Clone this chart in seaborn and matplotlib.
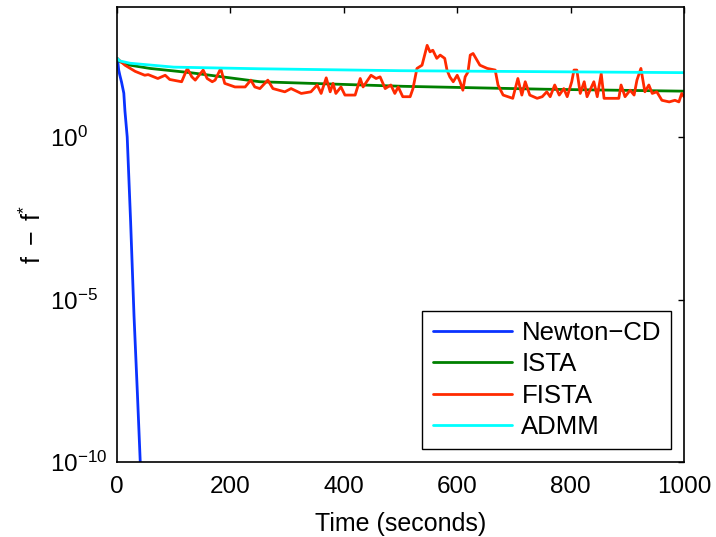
import numpy as np
import pandas as pd
import matplotlib
matplotlib.use("Agg")
import matplotlib.pyplot as plt
import seaborn as sns
from matplotlib.ticker import FixedLocator, NullLocator, FuncFormatter

# ---------------- data (log10 of f - f*) ----------------
newton_t = [0, 1.5, 3, 5, 8, 12, 14, 18, 24, 30, 36, 41, 46]
newton_log = [2.42, 2.30, 2.06, 1.90, 1.69, 1.35, 0.80, 0.0, -2.6, -5.5, -7.9, -10.0, -12.0]

ista_t = [0, 5, 23, 58, 129, 252, 504, 755, 1000]
ista_log = [2.42, 2.32, 2.21, 2.11, 1.98, 1.70, 1.56, 1.47, 1.41]

admm_t = [0, 5, 23, 100, 250, 500, 750, 1000]
admm_log = [2.42, 2.34, 2.27, 2.15, 2.10, 2.04, 2.01, 1.98]

fista_t = [0, 14, 32, 49, 55, 72, 85, 93, 114, 124, 132, 138, 152, 159, 168, 173,
           183, 190, 208, 226, 236, 243, 252,
           266, 275, 296, 307, 325, 342, 353, 360, 369, 376, 381, 386, 395, 402,
           420, 429, 434, 448, 457, 464, 473, 483, 490, 496, 504,
           517, 522, 529, 538, 547, 552, 557, 564, 570, 578, 582, 587, 593, 600,
           605, 610, 614, 619, 623, 628, 640, 653, 667, 672, 681, 698, 707, 714,
           720, 728, 741, 750,
           758, 764, 772, 780, 788, 794, 802, 806, 811, 817, 824, 829, 841, 847,
           854, 859, 885, 889, 896, 905, 912, 917, 924, 931, 938, 944, 952, 961,
           974, 984, 991, 996, 1000]
fista_log = [2.42, 2.21, 2.02, 1.90, 1.92, 1.80, 1.90, 1.77, 1.70, 2.11, 1.85, 1.75, 2.06, 1.80, 1.70, 1.75,
             2.11, 1.65, 1.54, 1.54, 1.75, 1.54, 1.49,
             1.75, 1.49, 1.39, 1.49, 1.34, 1.39, 1.60, 1.34, 1.82, 1.39, 1.65, 1.34, 1.54, 1.29,
             1.29, 1.80, 1.54, 1.90, 1.80, 1.85, 1.49, 1.60, 1.34, 1.54, 1.24,
             1.24, 1.49, 2.11, 2.21, 2.82, 2.62, 2.67, 2.42, 2.52, 2.42, 2.06, 1.85, 1.70, 1.90,
             1.70, 1.44, 1.85, 2.00, 2.52, 2.57, 2.21, 2.11, 2.06, 1.60, 1.29, 1.19, 1.80, 1.29,
             1.70, 1.29, 1.19, 1.24,
             1.39, 1.24, 1.60, 1.29, 1.49, 1.24, 1.70, 2.06, 2.06, 1.34, 1.70, 1.24, 1.70, 1.24,
             1.95, 1.19, 1.19, 1.60, 1.24, 1.44, 1.29, 1.75, 2.11, 1.39, 1.60, 1.34, 1.39, 1.13,
             1.08, 1.13, 1.08, 1.34, 1.24]

methods = ["Newton\u2212CD", "ISTA", "FISTA", "ADMM"]
colors = ["#0a32ff", "#008000", "#ff2a00", "#00ffff"]

series = {
    methods[0]: (newton_t, newton_log),
    methods[1]: (ista_t, ista_log),
    methods[2]: (fista_t, fista_log),
    methods[3]: (admm_t, admm_log),
}

rows = []
for name, (t, lg) in series.items():
    for ti, li in zip(t, lg):
        rows.append({"time": ti, "gap": 10.0 ** li, "method": name})
df = pd.DataFrame(rows)

# ---------------- style ----------------
sns.set_style("white")
plt.rcParams["font.family"] = ["Liberation Sans", "DejaVu Sans"]
plt.rcParams["mathtext.fontset"] = "custom"
plt.rcParams["mathtext.rm"] = "Liberation Sans"
plt.rcParams["mathtext.it"] = "Liberation Sans"
plt.rcParams["font.size"] = 17.5
plt.rcParams["text.color"] = "black"
plt.rcParams["axes.labelcolor"] = "black"

fig = plt.figure(figsize=(7.16, 5.37), dpi=100)
ax = fig.add_axes([117 / 716, 1 - 462 / 537, 567 / 716, 455 / 537])

sns.lineplot(data=df, x="time", y="gap", hue="method", hue_order=methods,
             palette=dict(zip(methods, colors)), estimator=None, sort=False,
             linewidth=2.0, ax=ax)

ax.set_yscale("log")
ax.set_xlim(0, 1000)
ax.set_ylim(1e-10, 1e4)
ax.xaxis.set_major_locator(FixedLocator([0, 200, 400, 600, 800, 1000]))
ax.yaxis.set_major_locator(FixedLocator([1e-10, 1e-5, 1e0]))
ax.yaxis.set_minor_locator(NullLocator())
ax.yaxis.set_major_formatter(FuncFormatter(
    lambda v, _: r"$\mathregular{10^{%d}}$" % round(np.log10(v))))

for s in ax.spines.values():
    s.set_visible(True)
    s.set_color("black")
    s.set_linewidth(1.2)
ax.tick_params(direction="in", top=True, right=True, length=4.5, width=1.0,
               colors="black", labelsize=17.5)
ax.tick_params(axis="x", pad=10)
ax.tick_params(axis="y", pad=48)
for lbl in ax.get_yticklabels():
    lbl.set_horizontalalignment("left")

ax.set_xlabel("Time (seconds)", fontsize=18, labelpad=10)
ax.set_ylabel(r"$\mathregular{f\ -\ f^{*}}$", fontsize=18, labelpad=3)

leg = ax.legend(loc="lower right", frameon=True, fancybox=False, framealpha=1,
                edgecolor="black", fontsize=18.5, handlelength=3.1,
                handletextpad=0.35, labelspacing=0.28, borderaxespad=0.5,
                borderpad=0.4)
leg.get_frame().set_linewidth(1.0)

fig.savefig("out.png", dpi=100)
